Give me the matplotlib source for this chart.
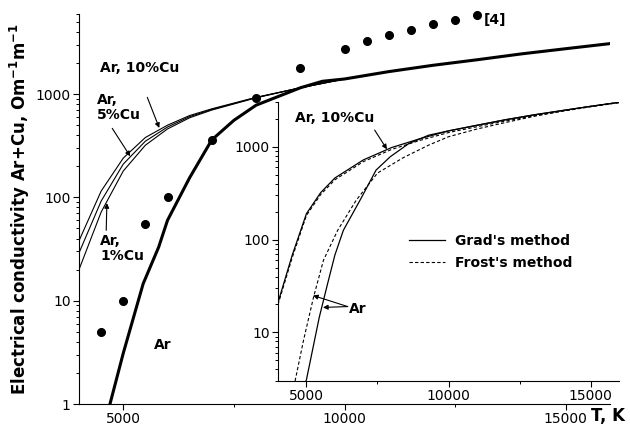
import numpy as np
import matplotlib
matplotlib.use("Agg")
import matplotlib.pyplot as plt
from matplotlib.ticker import FixedLocator, FuncFormatter, LogLocator, NullFormatter

plt.rcParams['font.family'] = ['DejaVu Sans']

# ---- main plot data ----
T_cu = [4000, 4500, 5000, 5500, 6000, 6500, 7000, 8000, 9000, 10000]
s_cu10 = [38, 115, 240, 380, 500, 620, 720, 930, 1150, 1400]
s_cu5 = [29, 92, 210, 350, 480, 605, 710, 925, 1150, 1400]
s_cu1 = [20, 72, 180, 320, 460, 590, 700, 920, 1150, 1400]

T_ar = [4700, 5000, 5450, 5800, 6000, 6500, 7000, 7500, 8000, 9000, 9500, 10000,
        11000, 12000, 13000, 14000, 15000, 16000]
s_ar = [1, 3.1, 14.6, 33, 60, 155, 360, 557, 780, 1150, 1330, 1400,
        1650, 1900, 2150, 2450, 2750, 3080]

T_ref = [4500, 5000, 5500, 6000, 7000, 8000, 9000, 10000, 10500, 11000, 11500, 12000, 12500, 13000]
s_ref = [5, 10, 55, 100, 360, 920, 1770, 2750, 3240, 3770, 4210, 4780, 5250, 5790]

# ---- inset data ----
T_in_cu = [4000, 4500, 5000, 5500, 6000, 7000, 8000, 9000, 10000, 11000, 12000, 13000, 14000, 15000, 16000]
s_in_cu_grad = [21, 68, 190, 320, 460, 720, 980, 1220, 1480, 1700, 1950, 2200, 2450, 2720, 3000]
s_in_cu_frost = [20, 64, 182, 305, 440, 690, 935, 1170, 1420, 1640, 1890, 2150, 2410, 2690, 2980]

T_in_ar_grad = [4950, 5000, 5450, 5750, 6000, 6300, 6900, 7450, 7950, 8600, 9300, 10000, 11000, 12000,
                13000, 14000, 15000, 16000]
s_in_ar_grad = [2.8, 3.1, 14.5, 34, 68, 126, 270, 560, 780, 1080, 1330, 1480, 1700, 1950,
                2200, 2450, 2720, 3000]

T_in_ar_frost = [4600, 4900, 5250, 5600, 6100, 6750, 7500, 8400, 9300, 10000, 11000, 12000,
                 13000, 14000, 15000, 16000]
s_in_ar_frost = [3, 8.3, 24, 60, 126, 265, 520, 760, 1040, 1280, 1550, 1820,
                 2120, 2420, 2720, 3000]

fig = plt.figure(figsize=(6.3, 4.32), dpi=100)
ax = fig.add_axes([0.1254, 0.0648, 0.8429, 0.9035])

bold = dict(fontweight='bold', fontsize=10)
arrow = dict(arrowstyle='-|>', lw=0.8, color='k', mutation_scale=7, shrinkA=0, shrinkB=0)


def style_axes(a, fs):
    for sp in ['top', 'right']:
        a.spines[sp].set_visible(False)
    a.set_yscale('log')
    a.set_xlim(4000, 16000)
    a.xaxis.set_major_locator(FixedLocator([5000, 10000, 15000]))
    a.xaxis.set_minor_locator(FixedLocator([7500, 12500]))
    a.yaxis.set_major_locator(LogLocator(base=10))
    a.yaxis.set_minor_locator(LogLocator(base=10, subs=np.arange(2, 10)))
    a.yaxis.set_minor_formatter(NullFormatter())
    a.yaxis.set_major_formatter(FuncFormatter(lambda v, p: '%g' % v))
    a.tick_params(which='major', direction='out', length=4, width=0.8, labelsize=fs, pad=2)
    a.tick_params(which='minor', direction='out', length=2.5, width=0.7)


style_axes(ax, 10)
ax.set_ylim(1, 6000)

ax.plot(T_cu, s_cu10, color='k', lw=0.8)
ax.plot(T_cu, s_cu5, color='k', lw=0.8)
ax.plot(T_cu, s_cu1, color='k', lw=0.8)
ax.plot(T_ar, s_ar, color='k', lw=2.2)
ax.plot(T_ref, s_ref, 'o', color='k', ms=5.5, clip_on=False)

ax.text(4480, 1780, 'Ar, 10%Cu', ha='left', va='center', **bold)
ax.annotate('', xy=(5814, 470), xytext=(5543, 930), arrowprops=arrow)
ax.text(4412, 745, 'Ar,\n5%Cu', ha='left', va='center', linespacing=1.1, **bold)
ax.annotate('', xy=(5158, 250), xytext=(4751, 466), arrowprops=arrow)
ax.text(4480, 32, 'Ar,\n1%Cu', ha='left', va='center', linespacing=1.1, **bold)
ax.annotate('', xy=(4630, 88), xytext=(4615, 48), arrowprops=arrow)
ax.text(5894, 3.7, 'Ar', ha='center', va='center', **bold)
ax.text(13145, 5180, '[4]', ha='left', va='center', **bold)

ax.set_ylabel('Electrical conductivity Ar+Cu, Om$^{\\mathbf{-1}}$m$^{\\mathbf{-1}}$',
              fontsize=12, fontweight='bold')
ax.yaxis.set_label_coords(-0.088, 0.5)
fig.text(591 / 630, (432 - 416) / 432, 'T, K', ha='left', va='center',
         fontsize=12, fontweight='bold')

# ---- inset ----
ax_in = fig.add_axes([0.4413, 0.118, 0.5413, 0.645])
style_axes(ax_in, 10)
ax_in.set_ylim(3, 3000)

ax_in.plot(T_in_cu, s_in_cu_grad, color='k', lw=0.9, label="Grad's method")
ax_in.plot(T_in_cu, s_in_cu_frost, color='k', lw=0.8, ls=(0, (3, 2)), label="Frost's method")
ax_in.plot(T_in_ar_grad, s_in_ar_grad, color='k', lw=0.9)
ax_in.plot(T_in_ar_frost, s_in_ar_frost, color='k', lw=0.8, ls=(0, (3, 2)))

ax_in.text(4589, 2036, 'Ar, 10%Cu', ha='left', va='center', **bold)
ax_in.annotate('', xy=(7833, 937), xytext=(7400, 1511), arrowprops=arrow)
ax_in.text(6487, 17.8, 'Ar', ha='left', va='center', **bold)
ax_in.annotate('', xy=(5232, 25), xytext=(6452, 19), arrowprops=arrow)
ax_in.annotate('', xy=(5583, 18.6), xytext=(6452, 19), arrowprops=arrow)

ax_in.legend(loc='upper left', bbox_to_anchor=(402 / 630, 0.4745),
             bbox_transform=fig.transFigure, frameon=False, borderpad=0,
             handlelength=2.6, handletextpad=0.7, labelspacing=0.55,
             prop=dict(weight='bold', size=10))

fig.savefig('out.png', dpi=100)
